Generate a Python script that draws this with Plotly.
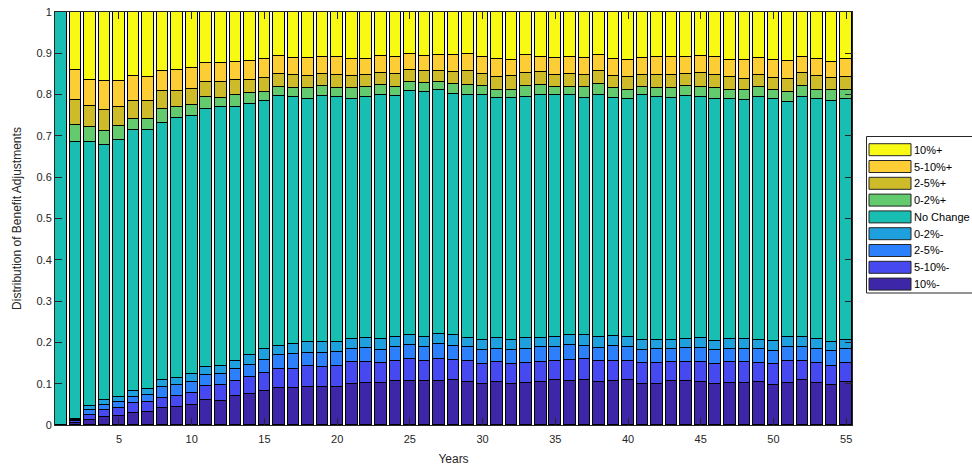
import plotly.graph_objects as go

years = list(range(1, 56))

neg10 = [0, .005, .012, .020, .023, .029, .032, .040, .044, .048, .060, .059, .070, .074, .082, .090, .090, .091, .092, .092,
         .100, .102, .102, .106, .107, .106, .106, .108, .104, .100, .104, .099, .102, .104, .109, .107, .110, .104, .106, .109,
         .099, .099, .106, .106, .103, .099, .102, .102, .104, .098, .102, .110, .102, .097, .104]
neg5_10 = [0, .004, .012, .016, .018, .025, .024, .025, .026, .029, .035, .039, .037, .042, .044, .045, .045, .051, .049, .051,
           .052, .051, .049, .050, .053, .048, .053, .049, .051, .048, .048, .048, .049, .048, .047, .050, .049, .050, .050, .047,
           .050, .050, .046, .047, .050, .049, .050, .050, .047, .050, .054, .046, .049, .046, .046]
neg2_5 = [0, .003, .012, .013, .014, .013, .016, .026, .026, .026, .026, .025, .028, .030, .031, .034, .037, .033, .034, .034,
          .033, .033, .031, .033, .034, .036, .037, .035, .033, .034, .033, .034, .033, .036, .033, .036, .032, .032, .035, .033,
          .033, .034, .031, .033, .033, .033, .033, .032, .033, .032, .034, .034, .033, .035, .033]
neg0_2 = [0, .002, .010, .011, .014, .015, .016, .018, .019, .020, .020, .020, .021, .024, .027, .023, .024, .026, .025, .023,
          .024, .024, .027, .025, .025, .024, .024, .025, .022, .024, .026, .026, .026, .022, .025, .024, .028, .028, .024, .024,
          .025, .023, .023, .022, .024, .023, .024, .025, .023, .023, .022, .024, .024, .024, .023]
no_change = [1.000, .671, .639, .617, .622, .632, .627, .622, .629, .626, .625, .626, .613, .608, .600, .604, .598, .589, .596, .595,
             .580, .584, .591, .582, .589, .592, .590, .585, .590, .592, .581, .584, .585, .590, .586, .583, .573, .586, .577, .577,
             .591, .588, .586, .588, .584, .586, .580, .578, .587, .586, .570, .580, .581, .583, .584]
pos0_2 = [0, .042, .037, .036, .032, .028, .027, .033, .027, .025, .028, .023, .029, .026, .022, .023, .022, .025, .024, .022,
          .026, .025, .023, .022, .022, .022, .020, .024, .024, .024, .020, .020, .025, .023, .019, .019, .026, .026, .024, .022,
          .021, .022, .023, .026, .024, .025, .023, .023, .025, .021, .024, .026, .023, .026, .022]
pos2_5 = [0, .061, .050, .049, .047, .043, .043, .044, .037, .039, .037, .039, .037, .031, .034, .032, .032, .031, .031, .031,
          .029, .029, .029, .032, .030, .028, .028, .029, .032, .029, .030, .033, .032, .031, .029, .031, .030, .030, .030, .030,
          .029, .032, .033, .029, .034, .032, .031, .027, .029, .030, .032, .032, .032, .028, .030]
pos5_10 = [0, .072, .064, .070, .064, .060, .057, .050, .052, .052, .046, .046, .045, .047, .046, .043, .041, .043, .040, .044,
           .043, .039, .042, .040, .039, .038, .039, .042, .042, .041, .044, .041, .045, .036, .041, .040, .041, .039, .040, .043,
           .041, .043, .042, .039, .041, .043, .042, .046, .041, .044, .044, .040, .043, .040, .045]
pos10 = [0, .140, .164, .168, .166, .155, .158, .142, .140, .135, .123, .123, .120, .118, .114, .106, .111, .111, .109, .108,
         .113, .113, .106, .110, .101, .106, .103, .103, .102, .108, .114, .115, .103, .110, .111, .110, .111, .105, .114, .115,
         .111, .109, .110, .110, .107, .110, .115, .117, .111, .116, .118, .108, .113, .121, .113]

series_names = ["10%-", "5-10%-", "2-5%-", "0-2%-", "No Change", "0-2%+", "2-5%+", "5-10%+", "10%+"]
series_values = [neg10, neg5_10, neg2_5, neg0_2, no_change, pos0_2, pos2_5, pos5_10, pos10]
colors = ["rgb(62,38,168)", "rgb(70,72,240)", "rgb(45,128,252)", "rgb(30,160,222)", "rgb(25,190,178)",
          "rgb(100,202,110)", "rgb(206,187,42)", "rgb(252,205,52)", "rgb(249,250,20)"]

x_ticks = [5, 10, 15, 20, 25, 30, 35, 40, 45, 50, 55]
y_ticks = [0, 0.1, 0.2, 0.3, 0.4, 0.5, 0.6, 0.7, 0.8, 0.9, 1]
y_tick_text = ["0", "0.1", "0.2", "0.3", "0.4", "0.5", "0.6", "0.7", "0.8", "0.9", "1"]

FONT = "Liberation Sans, Arial, Helvetica, sans-serif"
TXT = "#262626"

FIG_W, FIG_H = 972, 468
L, R_, T_, B_ = 55, 852, 12, 425
W, H = R_ - L, B_ - T_

fig = go.Figure()
for name, vals, col in zip(series_names, series_values, colors):
    fig.add_trace(go.Bar(x=years, y=vals, name=name, width=0.8,
                         marker=dict(color=col, line=dict(color="black", width=1)),
                         showlegend=False))

def px(x):
    return (x - L) / W
def py(y):
    return (B_ - y) / H

# MATLAB-style legend drawn as shapes + text (paper coordinates); its right side runs off the page
bx0, bx1, by0, by1 = px(866.5), px(990), py(293), py(136.5)
shapes = [
    dict(type="rect", xref="paper", yref="paper", x0=bx0, x1=bx1, y0=by0, y1=by1,
         line=dict(width=0), fillcolor="white", layer="below"),
    dict(type="path", xref="paper", yref="paper",
         path=f"M {bx1} {by1} L {bx0} {by1} L {bx0} {by0} L {bx1} {by0}",
         line=dict(color="#262626", width=1)),
]
annotations = []
for i, idx in enumerate(range(len(series_names) - 1, -1, -1)):
    cy = 149.7 + i * 16.8
    shapes.append(dict(type="rect", xref="paper", yref="paper",
                       x0=px(869), x1=px(911), y0=py(cy + 6), y1=py(cy - 6),
                       line=dict(color="#262626", width=1), fillcolor=colors[idx]))
    annotations.append(dict(xref="paper", yref="paper", x=px(912), y=py(cy),
                            text=series_names[idx], showarrow=False, xanchor="left", yanchor="middle",
                            font=dict(family=FONT, size=11, color="black")))

fig.update_layout(
    barmode="stack",
    bargap=0,
    width=FIG_W, height=FIG_H,
    margin=dict(l=L, r=FIG_W - R_, t=T_, b=FIG_H - B_, autoexpand=False),
    paper_bgcolor="white", plot_bgcolor="white",
    font=dict(family=FONT, size=11, color=TXT),
    shapes=shapes,
    annotations=annotations,
    showlegend=False,
)
fig.update_xaxes(range=[0.6, 55.4], tickmode="array", tickvals=x_ticks, automargin=False,
                 ticks="inside", ticklen=7, tickcolor=TXT, showline=True, linecolor=TXT, linewidth=1,
                 mirror="ticks", showgrid=False, zeroline=False, ticklabelstandoff=4,
                 title=dict(text="Years", font=dict(size=12, color=TXT), standoff=10),
                 tickfont=dict(size=11, color=TXT))
fig.update_yaxes(range=[0, 1], tickmode="array", tickvals=y_ticks, ticktext=y_tick_text, automargin=False,
                 ticks="inside", ticklen=7, tickcolor=TXT, showline=True, linecolor=TXT, linewidth=1,
                 mirror="ticks", showgrid=False, zeroline=False, ticklabeloverflow="allow",
                 title=dict(text="Distribution of Benefit Adjustments", font=dict(size=12, color=TXT), standoff=12),
                 tickfont=dict(size=11, color=TXT))

fig.write_html("out.html", config={"displayModeBar": False},
               post_script="document.body.style.margin='0';document.body.style.overflow='hidden';")
